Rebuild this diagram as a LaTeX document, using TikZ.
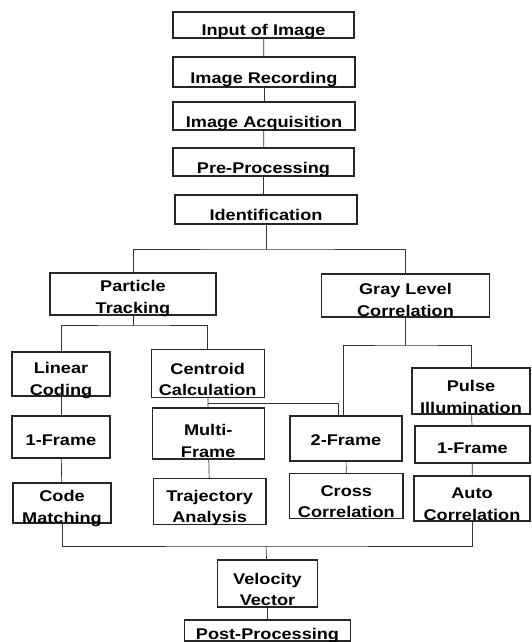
\documentclass[tikz,border=0pt]{standalone}
\usepackage{fontspec}
\setmainfont{Liberation Sans}[FakeStretch=1.17]
\tikzset{
    stage/.style n args={3}{draw=black!85, line width=1.1pt, minimum width=#1,
        text height=#2, text depth=#3, inner ysep=0pt, inner xsep=2pt,
        align=center, font=\fontsize{15.5}{21.3}\selectfont\bfseries},
    link/.style={draw=black!80, line width=0.7pt}
}
\begin{document}
\begin{tikzpicture}[x=1pt, y=-1pt]%% flow chart
    \useasboundingbox (0, 0) rectangle (531, 642);

    %% top column
        \node[stage={181pt}{24pt}{2pt}] (inp) at (263.5, 25){Input of Image};
        \node[stage={182pt}{26pt}{4pt}] (rec) at (264, 72){Image Recording};
        \node[stage={182pt}{25pt}{3pt}] (acq) at (264, 116){Image Acquisition};
        \node[stage={181pt}{25pt}{3pt}] (pre) at (263.5, 162){Pre-Processing};
        \node[stage={182pt}{25pt}{4pt}] (ident) at (266, 209.5){Identification};

    %% two methods
        \node[stage={166pt}{40pt}{2pt}] (ptrack) at (133, 294){Particle\\Tracking};
        \node[stage={168pt}{42pt}{1pt}] (gray) at (405.5, 295.5){Gray Level\\Correlation};

    %% particle tracking side
        \node[stage={98pt}{43pt}{1pt}] (lin) at (61, 374){Linear\\Coding};
        \node[stage={113pt}{46pt}{1.5pt}] (cent) at (207.7, 373.3){Centroid\\Calculation};
            \node[stage={98pt}{29pt}{13pt}] (onefl) at (61, 437){1-Frame};
            \node[stage={112pt}{49pt}{2pt}] (multi) at (208.2, 433.5){Multi-\\Frame};
                \node[stage={98pt}{40pt}{0pt}] (code) at (62, 503){Code\\Matching};
                \node[stage={112.6pt}{44pt}{1.5pt}] (traj) at (209.7, 501.3){Trajectory\\Analysis};

    %% gray level side
        \node[stage={112pt}{29pt}{16pt}] (twof) at (346, 438.5){2-Frame};
        \node[stage={118pt}{45pt}{1pt}] (pulse) at (471, 391){Pulse\\Illumination};
            \node[stage={115pt}{27pt}{10pt}] (onefr) at (472.5, 444.5){1-Frame};
                \node[stage={113.4pt}{44pt}{0.5pt}] (cross) at (346.3, 495.8){Cross\\Correlation};
                \node[stage={116pt}{44pt}{1pt}] (auto) at (472, 498.5){Auto\\Correlation};

    %% result
        \node[stage={99.5pt}{45.5pt}{1.5pt}] (vel) at (267.5, 583.5){Velocity\\Vector};
        \node[stage={166pt}{19pt}{2pt}] (post) at (267.5, 630.5){Post-Processing};

    %% connectors
        \coordinate (forka) at (266, 249);
        \coordinate (forkb) at (133, 325);
        \coordinate (forkc) at (405.5, 345);
        \coordinate (forkd) at (266, 546);

        \draw[link] (inp) -- (rec);
        \draw[link] (rec) -- (acq);
        \draw[link] (acq) -- (pre);
        \draw[link] (pre) -- (pre |- ident.north);
        \draw[link] (ident) -- (forka);
        \draw[link] (ptrack) |- (forka) -| (gray);

        \draw[link] (ptrack) -- (forkb);
        \draw[link] (lin) |- (forkb) -| (cent);
        \draw[link] (lin) -- (onefl);
        \draw[link] (onefl) -- (code);
        \draw[link] (cent) -- (multi);
        \draw[link] (multi) -- (traj);
        \draw[link] (cent.south) ++(0, 6) -| ([xshift=-8pt]twof.north);

        \draw[link] (gray) -- (forkc);
        \draw[link] ([xshift=-3pt]twof.north) |- (forkc) -| (pulse);
        \draw[link] (twof) -- (cross);
        \draw[link] (pulse) -- (onefr);
        \draw[link] (onefr) -- (auto);

        \draw[link] (code) |- (forkd) -| (auto);
        \draw[link] (forkd) -- (vel);
        \draw[link] (vel) -- (post);

\end{tikzpicture}
\end{document}
